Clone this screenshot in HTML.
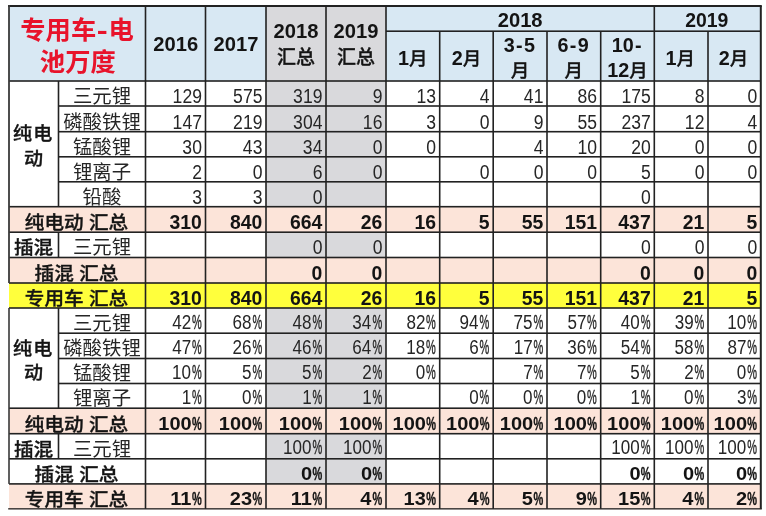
<!DOCTYPE html>
<html><head><meta charset="utf-8"><title>专用车-电池万度</title>
<style>
html,body{margin:0;padding:0;background:#fff;}
body{width:766px;height:516px;overflow:hidden;}
svg{display:block;}
</style></head>
<body>
<svg width="766" height="516" viewBox="0 0 766 516">
<rect x="0" y="0" width="766" height="516" fill="#fff"/>
<rect x="9" y="6.0" width="751.80" height="75.00" fill="#d8e8f3"/>
<rect x="266" y="6.0" width="120.00" height="75.00" fill="#d9d9dc"/>
<rect x="266" y="81" width="120.00" height="25.00" fill="#d9d9dc"/>
<rect x="266" y="106" width="120.00" height="25.70" fill="#d9d9dc"/>
<rect x="266" y="131.7" width="120.00" height="25.10" fill="#d9d9dc"/>
<rect x="266" y="156.8" width="120.00" height="25.00" fill="#d9d9dc"/>
<rect x="266" y="181.8" width="120.00" height="24.90" fill="#d9d9dc"/>
<rect x="266" y="232.2" width="120.00" height="25.30" fill="#d9d9dc"/>
<rect x="266" y="308" width="120.00" height="25.20" fill="#d9d9dc"/>
<rect x="266" y="333.2" width="120.00" height="25.30" fill="#d9d9dc"/>
<rect x="266" y="358.5" width="120.00" height="25.00" fill="#d9d9dc"/>
<rect x="266" y="383.5" width="120.00" height="24.70" fill="#d9d9dc"/>
<rect x="266" y="433.7" width="120.00" height="25.10" fill="#d9d9dc"/>
<rect x="266" y="458.8" width="120.00" height="25.10" fill="#d9d9dc"/>
<rect x="9" y="206.7" width="751.80" height="25.50" fill="#fce4d9"/>
<rect x="9" y="257.5" width="751.80" height="25.50" fill="#fce4d9"/>
<rect x="9" y="408.2" width="751.80" height="25.50" fill="#fce4d9"/>
<rect x="9" y="483.9" width="751.80" height="24.90" fill="#fce4d9"/>
<rect x="9" y="283" width="751.80" height="25.00" fill="#ffff3c"/>
<rect x="8" y="5.00" width="753.80" height="2.0" fill="#222"/>
<rect x="386" y="30.40" width="374.80" height="1.6" fill="#222"/>
<rect x="9" y="80.20" width="751.80" height="1.6" fill="#222"/>
<rect x="58.5" y="105.20" width="702.30" height="1.6" fill="#222"/>
<rect x="58.5" y="130.90" width="702.30" height="1.6" fill="#222"/>
<rect x="58.5" y="156.00" width="702.30" height="1.6" fill="#222"/>
<rect x="58.5" y="181.00" width="702.30" height="1.6" fill="#222"/>
<rect x="9" y="205.90" width="751.80" height="1.6" fill="#222"/>
<rect x="9" y="231.40" width="751.80" height="1.6" fill="#222"/>
<rect x="9" y="256.70" width="751.80" height="1.6" fill="#222"/>
<rect x="9" y="282.20" width="751.80" height="1.6" fill="#222"/>
<rect x="9" y="307.20" width="751.80" height="1.6" fill="#222"/>
<rect x="58.5" y="332.40" width="702.30" height="1.6" fill="#222"/>
<rect x="58.5" y="357.70" width="702.30" height="1.6" fill="#222"/>
<rect x="58.5" y="382.70" width="702.30" height="1.6" fill="#222"/>
<rect x="9" y="407.40" width="751.80" height="1.6" fill="#222"/>
<rect x="9" y="432.90" width="751.80" height="1.6" fill="#222"/>
<rect x="9" y="458.00" width="751.80" height="1.6" fill="#222"/>
<rect x="9" y="483.10" width="751.80" height="1.6" fill="#222"/>
<rect x="8.2" y="508.00" width="753.60" height="1.6" fill="#4a4543"/>
<rect x="8.10" y="5.0" width="1.8" height="278.00" fill="#3a3a3a"/>
<rect x="8.20" y="308" width="1.6" height="175.90" fill="#3a3a3a"/>
<rect x="759.80" y="6.0" width="2.0" height="502.80" fill="#222"/>
<rect x="144.70" y="6.0" width="1.6" height="502.80" fill="#222"/>
<rect x="204.70" y="6.0" width="1.6" height="502.80" fill="#222"/>
<rect x="265.20" y="6.0" width="1.6" height="502.80" fill="#222"/>
<rect x="325.20" y="6.0" width="1.6" height="502.80" fill="#222"/>
<rect x="385.20" y="6.0" width="1.6" height="502.80" fill="#222"/>
<rect x="438.90" y="31.2" width="1.6" height="477.60" fill="#222"/>
<rect x="492.40" y="31.2" width="1.6" height="477.60" fill="#222"/>
<rect x="546.20" y="31.2" width="1.6" height="477.60" fill="#222"/>
<rect x="599.90" y="31.2" width="1.6" height="477.60" fill="#222"/>
<rect x="653.50" y="6.0" width="1.6" height="502.80" fill="#222"/>
<rect x="707.20" y="31.2" width="1.6" height="477.60" fill="#222"/>
<rect x="57.70" y="81" width="1.6" height="125.70" fill="#222"/>
<rect x="57.70" y="232.2" width="1.6" height="25.30" fill="#222"/>
<rect x="57.70" y="308" width="1.6" height="100.20" fill="#222"/>
<rect x="57.70" y="433.7" width="1.6" height="25.10" fill="#222"/>
<text transform="translate(20.30,38.90) scale(1.0,1)" text-anchor="start" font-size="25.3" font-weight="bold" fill="#e8132b" font-family='"Liberation Sans", "Noto Sans CJK SC", sans-serif'>专用车</text>
<text transform="translate(102.30,38.90) scale(1.3,1)" text-anchor="middle" font-size="25.3" font-weight="bold" fill="#e8132b" font-family='"Liberation Sans", "Noto Sans CJK SC", sans-serif'>-</text>
<text transform="translate(108.50,38.90) scale(1.0,1)" text-anchor="start" font-size="25.3" font-weight="bold" fill="#e8132b" font-family='"Liberation Sans", "Noto Sans CJK SC", sans-serif'>电</text>
<text transform="translate(77.80,70.60) scale(1.0,1)" text-anchor="middle" font-size="25.3" font-weight="bold" fill="#e8132b" font-family='"Liberation Sans", "Noto Sans CJK SC", sans-serif'>池万度</text>
<text transform="translate(175.70,51.20) scale(1.02,1)" text-anchor="middle" font-size="19.8" font-weight="bold" fill="#141414" font-family='"Liberation Sans", "Noto Sans CJK SC", sans-serif'>2016</text>
<text transform="translate(235.95,51.20) scale(1.02,1)" text-anchor="middle" font-size="19.8" font-weight="bold" fill="#141414" font-family='"Liberation Sans", "Noto Sans CJK SC", sans-serif'>2017</text>
<text transform="translate(296.00,38.40) scale(1.02,1)" text-anchor="middle" font-size="19.8" font-weight="bold" fill="#141414" font-family='"Liberation Sans", "Noto Sans CJK SC", sans-serif'>2018</text>
<text transform="translate(296.00,63.50) scale(1.0,1)" text-anchor="middle" font-size="19" font-weight="500" fill="#141414" font-family='"Liberation Sans", "Noto Sans CJK SC", sans-serif' stroke="#141414" stroke-width="0.35">汇总</text>
<text transform="translate(356.00,38.40) scale(1.02,1)" text-anchor="middle" font-size="19.8" font-weight="bold" fill="#141414" font-family='"Liberation Sans", "Noto Sans CJK SC", sans-serif'>2019</text>
<text transform="translate(356.00,63.50) scale(1.0,1)" text-anchor="middle" font-size="19" font-weight="500" fill="#141414" font-family='"Liberation Sans", "Noto Sans CJK SC", sans-serif' stroke="#141414" stroke-width="0.35">汇总</text>
<text transform="translate(520.15,26.60) scale(1.02,1)" text-anchor="middle" font-size="19.8" font-weight="bold" fill="#141414" font-family='"Liberation Sans", "Noto Sans CJK SC", sans-serif'>2018</text>
<text transform="translate(706.75,26.60) scale(0.98,1)" text-anchor="middle" font-size="19.8" font-weight="bold" fill="#141414" font-family='"Liberation Sans", "Noto Sans CJK SC", sans-serif'>2019</text>
<text transform="translate(412.85,64.60) scale(1.0,1)" text-anchor="middle" font-size="18.5" font-weight="500" fill="#141414" font-family='"Liberation Sans", "Noto Sans CJK SC", sans-serif' stroke="#141414" stroke-width="0.35"><tspan font-size="19.8" font-weight="bold" stroke="none">1</tspan>月</text>
<text transform="translate(466.45,64.60) scale(1.0,1)" text-anchor="middle" font-size="18.5" font-weight="500" fill="#141414" font-family='"Liberation Sans", "Noto Sans CJK SC", sans-serif' stroke="#141414" stroke-width="0.35"><tspan font-size="19.8" font-weight="bold" stroke="none">2</tspan>月</text>
<text transform="translate(680.15,64.60) scale(1.0,1)" text-anchor="middle" font-size="18.5" font-weight="500" fill="#141414" font-family='"Liberation Sans", "Noto Sans CJK SC", sans-serif' stroke="#141414" stroke-width="0.35"><tspan font-size="19.8" font-weight="bold" stroke="none">1</tspan>月</text>
<text transform="translate(733.40,64.60) scale(1.0,1)" text-anchor="middle" font-size="18.5" font-weight="500" fill="#141414" font-family='"Liberation Sans", "Noto Sans CJK SC", sans-serif' stroke="#141414" stroke-width="0.35"><tspan font-size="19.8" font-weight="bold" stroke="none">2</tspan>月</text>
<text transform="translate(520.10,51.60) scale(1.0,1)" text-anchor="middle" font-size="19.8" font-weight="bold" fill="#141414" font-family='"Liberation Sans", "Noto Sans CJK SC", sans-serif' letter-spacing="1.4">3-5</text>
<text transform="translate(520.10,76.80) scale(1.0,1)" text-anchor="middle" font-size="18.5" font-weight="500" fill="#141414" font-family='"Liberation Sans", "Noto Sans CJK SC", sans-serif' stroke="#141414" stroke-width="0.35">月</text>
<text transform="translate(573.85,51.60) scale(1.0,1)" text-anchor="middle" font-size="19.8" font-weight="bold" fill="#141414" font-family='"Liberation Sans", "Noto Sans CJK SC", sans-serif' letter-spacing="1.4">6-9</text>
<text transform="translate(573.85,76.80) scale(1.0,1)" text-anchor="middle" font-size="18.5" font-weight="500" fill="#141414" font-family='"Liberation Sans", "Noto Sans CJK SC", sans-serif' stroke="#141414" stroke-width="0.35">月</text>
<text transform="translate(633.80,51.60) scale(1.0,1)" text-anchor="end" font-size="19.8" font-weight="bold" fill="#141414" font-family='"Liberation Sans", "Noto Sans CJK SC", sans-serif'>10</text>
<text transform="translate(634.90,51.60) scale(1.0,1)" text-anchor="start" font-size="19.8" font-weight="bold" fill="#141414" font-family='"Liberation Sans", "Noto Sans CJK SC", sans-serif'>-</text>
<text transform="translate(627.50,76.80) scale(1.0,1)" text-anchor="middle" font-size="18.5" font-weight="500" fill="#141414" font-family='"Liberation Sans", "Noto Sans CJK SC", sans-serif' stroke="#141414" stroke-width="0.35"><tspan font-size="19.8" font-weight="bold" stroke="none">12</tspan>月</text>
<text transform="translate(102.00,102.80) scale(1.02,1)" text-anchor="middle" font-size="19" font-weight="normal" fill="#262626" font-family='"Liberation Sans", "Noto Sans CJK SC", sans-serif'>三元锂</text>
<text transform="translate(201.90,102.80) scale(0.9,1)" text-anchor="end" font-size="19.5" font-weight="normal" fill="#262626" font-family='"Liberation Sans", "Noto Sans CJK SC", sans-serif'>129</text>
<text transform="translate(262.40,102.80) scale(0.9,1)" text-anchor="end" font-size="19.5" font-weight="normal" fill="#262626" font-family='"Liberation Sans", "Noto Sans CJK SC", sans-serif'>575</text>
<text transform="translate(322.40,102.80) scale(0.9,1)" text-anchor="end" font-size="19.5" font-weight="normal" fill="#262626" font-family='"Liberation Sans", "Noto Sans CJK SC", sans-serif'>319</text>
<text transform="translate(382.40,102.80) scale(0.9,1)" text-anchor="end" font-size="19.5" font-weight="normal" fill="#262626" font-family='"Liberation Sans", "Noto Sans CJK SC", sans-serif'>9</text>
<text transform="translate(436.10,102.80) scale(0.9,1)" text-anchor="end" font-size="19.5" font-weight="normal" fill="#262626" font-family='"Liberation Sans", "Noto Sans CJK SC", sans-serif'>13</text>
<text transform="translate(489.60,102.80) scale(0.9,1)" text-anchor="end" font-size="19.5" font-weight="normal" fill="#262626" font-family='"Liberation Sans", "Noto Sans CJK SC", sans-serif'>4</text>
<text transform="translate(543.40,102.80) scale(0.9,1)" text-anchor="end" font-size="19.5" font-weight="normal" fill="#262626" font-family='"Liberation Sans", "Noto Sans CJK SC", sans-serif'>41</text>
<text transform="translate(597.10,102.80) scale(0.9,1)" text-anchor="end" font-size="19.5" font-weight="normal" fill="#262626" font-family='"Liberation Sans", "Noto Sans CJK SC", sans-serif'>86</text>
<text transform="translate(650.70,102.80) scale(0.9,1)" text-anchor="end" font-size="19.5" font-weight="normal" fill="#262626" font-family='"Liberation Sans", "Noto Sans CJK SC", sans-serif'>175</text>
<text transform="translate(704.40,102.80) scale(0.9,1)" text-anchor="end" font-size="19.5" font-weight="normal" fill="#262626" font-family='"Liberation Sans", "Noto Sans CJK SC", sans-serif'>8</text>
<text transform="translate(757.20,102.80) scale(0.9,1)" text-anchor="end" font-size="19.5" font-weight="normal" fill="#262626" font-family='"Liberation Sans", "Noto Sans CJK SC", sans-serif'>0</text>
<text transform="translate(102.00,128.50) scale(1.02,1)" text-anchor="middle" font-size="19" font-weight="normal" fill="#262626" font-family='"Liberation Sans", "Noto Sans CJK SC", sans-serif'>磷酸铁锂</text>
<text transform="translate(201.90,128.50) scale(0.9,1)" text-anchor="end" font-size="19.5" font-weight="normal" fill="#262626" font-family='"Liberation Sans", "Noto Sans CJK SC", sans-serif'>147</text>
<text transform="translate(262.40,128.50) scale(0.9,1)" text-anchor="end" font-size="19.5" font-weight="normal" fill="#262626" font-family='"Liberation Sans", "Noto Sans CJK SC", sans-serif'>219</text>
<text transform="translate(322.40,128.50) scale(0.9,1)" text-anchor="end" font-size="19.5" font-weight="normal" fill="#262626" font-family='"Liberation Sans", "Noto Sans CJK SC", sans-serif'>304</text>
<text transform="translate(382.40,128.50) scale(0.9,1)" text-anchor="end" font-size="19.5" font-weight="normal" fill="#262626" font-family='"Liberation Sans", "Noto Sans CJK SC", sans-serif'>16</text>
<text transform="translate(436.10,128.50) scale(0.9,1)" text-anchor="end" font-size="19.5" font-weight="normal" fill="#262626" font-family='"Liberation Sans", "Noto Sans CJK SC", sans-serif'>3</text>
<text transform="translate(489.60,128.50) scale(0.9,1)" text-anchor="end" font-size="19.5" font-weight="normal" fill="#262626" font-family='"Liberation Sans", "Noto Sans CJK SC", sans-serif'>0</text>
<text transform="translate(543.40,128.50) scale(0.9,1)" text-anchor="end" font-size="19.5" font-weight="normal" fill="#262626" font-family='"Liberation Sans", "Noto Sans CJK SC", sans-serif'>9</text>
<text transform="translate(597.10,128.50) scale(0.9,1)" text-anchor="end" font-size="19.5" font-weight="normal" fill="#262626" font-family='"Liberation Sans", "Noto Sans CJK SC", sans-serif'>55</text>
<text transform="translate(650.70,128.50) scale(0.9,1)" text-anchor="end" font-size="19.5" font-weight="normal" fill="#262626" font-family='"Liberation Sans", "Noto Sans CJK SC", sans-serif'>237</text>
<text transform="translate(704.40,128.50) scale(0.9,1)" text-anchor="end" font-size="19.5" font-weight="normal" fill="#262626" font-family='"Liberation Sans", "Noto Sans CJK SC", sans-serif'>12</text>
<text transform="translate(757.20,128.50) scale(0.9,1)" text-anchor="end" font-size="19.5" font-weight="normal" fill="#262626" font-family='"Liberation Sans", "Noto Sans CJK SC", sans-serif'>4</text>
<text transform="translate(102.00,153.60) scale(1.02,1)" text-anchor="middle" font-size="19" font-weight="normal" fill="#262626" font-family='"Liberation Sans", "Noto Sans CJK SC", sans-serif'>锰酸锂</text>
<text transform="translate(201.90,153.60) scale(0.9,1)" text-anchor="end" font-size="19.5" font-weight="normal" fill="#262626" font-family='"Liberation Sans", "Noto Sans CJK SC", sans-serif'>30</text>
<text transform="translate(262.40,153.60) scale(0.9,1)" text-anchor="end" font-size="19.5" font-weight="normal" fill="#262626" font-family='"Liberation Sans", "Noto Sans CJK SC", sans-serif'>43</text>
<text transform="translate(322.40,153.60) scale(0.9,1)" text-anchor="end" font-size="19.5" font-weight="normal" fill="#262626" font-family='"Liberation Sans", "Noto Sans CJK SC", sans-serif'>34</text>
<text transform="translate(382.40,153.60) scale(0.9,1)" text-anchor="end" font-size="19.5" font-weight="normal" fill="#262626" font-family='"Liberation Sans", "Noto Sans CJK SC", sans-serif'>0</text>
<text transform="translate(436.10,153.60) scale(0.9,1)" text-anchor="end" font-size="19.5" font-weight="normal" fill="#262626" font-family='"Liberation Sans", "Noto Sans CJK SC", sans-serif'>0</text>
<text transform="translate(543.40,153.60) scale(0.9,1)" text-anchor="end" font-size="19.5" font-weight="normal" fill="#262626" font-family='"Liberation Sans", "Noto Sans CJK SC", sans-serif'>4</text>
<text transform="translate(597.10,153.60) scale(0.9,1)" text-anchor="end" font-size="19.5" font-weight="normal" fill="#262626" font-family='"Liberation Sans", "Noto Sans CJK SC", sans-serif'>10</text>
<text transform="translate(650.70,153.60) scale(0.9,1)" text-anchor="end" font-size="19.5" font-weight="normal" fill="#262626" font-family='"Liberation Sans", "Noto Sans CJK SC", sans-serif'>20</text>
<text transform="translate(704.40,153.60) scale(0.9,1)" text-anchor="end" font-size="19.5" font-weight="normal" fill="#262626" font-family='"Liberation Sans", "Noto Sans CJK SC", sans-serif'>0</text>
<text transform="translate(757.20,153.60) scale(0.9,1)" text-anchor="end" font-size="19.5" font-weight="normal" fill="#262626" font-family='"Liberation Sans", "Noto Sans CJK SC", sans-serif'>0</text>
<text transform="translate(102.00,178.60) scale(1.02,1)" text-anchor="middle" font-size="19" font-weight="normal" fill="#262626" font-family='"Liberation Sans", "Noto Sans CJK SC", sans-serif'>锂离子</text>
<text transform="translate(201.90,178.60) scale(0.9,1)" text-anchor="end" font-size="19.5" font-weight="normal" fill="#262626" font-family='"Liberation Sans", "Noto Sans CJK SC", sans-serif'>2</text>
<text transform="translate(262.40,178.60) scale(0.9,1)" text-anchor="end" font-size="19.5" font-weight="normal" fill="#262626" font-family='"Liberation Sans", "Noto Sans CJK SC", sans-serif'>0</text>
<text transform="translate(322.40,178.60) scale(0.9,1)" text-anchor="end" font-size="19.5" font-weight="normal" fill="#262626" font-family='"Liberation Sans", "Noto Sans CJK SC", sans-serif'>6</text>
<text transform="translate(382.40,178.60) scale(0.9,1)" text-anchor="end" font-size="19.5" font-weight="normal" fill="#262626" font-family='"Liberation Sans", "Noto Sans CJK SC", sans-serif'>0</text>
<text transform="translate(489.60,178.60) scale(0.9,1)" text-anchor="end" font-size="19.5" font-weight="normal" fill="#262626" font-family='"Liberation Sans", "Noto Sans CJK SC", sans-serif'>0</text>
<text transform="translate(543.40,178.60) scale(0.9,1)" text-anchor="end" font-size="19.5" font-weight="normal" fill="#262626" font-family='"Liberation Sans", "Noto Sans CJK SC", sans-serif'>0</text>
<text transform="translate(597.10,178.60) scale(0.9,1)" text-anchor="end" font-size="19.5" font-weight="normal" fill="#262626" font-family='"Liberation Sans", "Noto Sans CJK SC", sans-serif'>0</text>
<text transform="translate(650.70,178.60) scale(0.9,1)" text-anchor="end" font-size="19.5" font-weight="normal" fill="#262626" font-family='"Liberation Sans", "Noto Sans CJK SC", sans-serif'>5</text>
<text transform="translate(704.40,178.60) scale(0.9,1)" text-anchor="end" font-size="19.5" font-weight="normal" fill="#262626" font-family='"Liberation Sans", "Noto Sans CJK SC", sans-serif'>0</text>
<text transform="translate(757.20,178.60) scale(0.9,1)" text-anchor="end" font-size="19.5" font-weight="normal" fill="#262626" font-family='"Liberation Sans", "Noto Sans CJK SC", sans-serif'>0</text>
<text transform="translate(102.00,203.50) scale(1.02,1)" text-anchor="middle" font-size="19" font-weight="normal" fill="#262626" font-family='"Liberation Sans", "Noto Sans CJK SC", sans-serif'>铅酸</text>
<text transform="translate(201.90,203.50) scale(0.9,1)" text-anchor="end" font-size="19.5" font-weight="normal" fill="#262626" font-family='"Liberation Sans", "Noto Sans CJK SC", sans-serif'>3</text>
<text transform="translate(262.40,203.50) scale(0.9,1)" text-anchor="end" font-size="19.5" font-weight="normal" fill="#262626" font-family='"Liberation Sans", "Noto Sans CJK SC", sans-serif'>3</text>
<text transform="translate(322.40,203.50) scale(0.9,1)" text-anchor="end" font-size="19.5" font-weight="normal" fill="#262626" font-family='"Liberation Sans", "Noto Sans CJK SC", sans-serif'>0</text>
<text transform="translate(650.70,203.50) scale(0.9,1)" text-anchor="end" font-size="19.5" font-weight="normal" fill="#262626" font-family='"Liberation Sans", "Noto Sans CJK SC", sans-serif'>0</text>
<text transform="translate(76.50,229.00) scale(1.06,1)" text-anchor="middle" font-size="18.5" font-weight="500" fill="#141414" font-family='"Liberation Sans", "Noto Sans CJK SC", sans-serif' stroke="#141414" stroke-width="0.35">纯电动 汇总</text>
<text transform="translate(201.90,229.00) scale(1.0,1)" text-anchor="end" font-size="19.4" font-weight="bold" fill="#141414" font-family='"Liberation Sans", "Noto Sans CJK SC", sans-serif'>310</text>
<text transform="translate(262.40,229.00) scale(1.0,1)" text-anchor="end" font-size="19.4" font-weight="bold" fill="#141414" font-family='"Liberation Sans", "Noto Sans CJK SC", sans-serif'>840</text>
<text transform="translate(322.40,229.00) scale(1.0,1)" text-anchor="end" font-size="19.4" font-weight="bold" fill="#141414" font-family='"Liberation Sans", "Noto Sans CJK SC", sans-serif'>664</text>
<text transform="translate(382.40,229.00) scale(1.0,1)" text-anchor="end" font-size="19.4" font-weight="bold" fill="#141414" font-family='"Liberation Sans", "Noto Sans CJK SC", sans-serif'>26</text>
<text transform="translate(436.10,229.00) scale(1.0,1)" text-anchor="end" font-size="19.4" font-weight="bold" fill="#141414" font-family='"Liberation Sans", "Noto Sans CJK SC", sans-serif'>16</text>
<text transform="translate(489.60,229.00) scale(1.0,1)" text-anchor="end" font-size="19.4" font-weight="bold" fill="#141414" font-family='"Liberation Sans", "Noto Sans CJK SC", sans-serif'>5</text>
<text transform="translate(543.40,229.00) scale(1.0,1)" text-anchor="end" font-size="19.4" font-weight="bold" fill="#141414" font-family='"Liberation Sans", "Noto Sans CJK SC", sans-serif'>55</text>
<text transform="translate(597.10,229.00) scale(1.0,1)" text-anchor="end" font-size="19.4" font-weight="bold" fill="#141414" font-family='"Liberation Sans", "Noto Sans CJK SC", sans-serif'>151</text>
<text transform="translate(650.70,229.00) scale(1.0,1)" text-anchor="end" font-size="19.4" font-weight="bold" fill="#141414" font-family='"Liberation Sans", "Noto Sans CJK SC", sans-serif'>437</text>
<text transform="translate(704.40,229.00) scale(1.0,1)" text-anchor="end" font-size="19.4" font-weight="bold" fill="#141414" font-family='"Liberation Sans", "Noto Sans CJK SC", sans-serif'>21</text>
<text transform="translate(757.20,229.00) scale(1.0,1)" text-anchor="end" font-size="19.4" font-weight="bold" fill="#141414" font-family='"Liberation Sans", "Noto Sans CJK SC", sans-serif'>5</text>
<text transform="translate(102.00,254.30) scale(1.02,1)" text-anchor="middle" font-size="19" font-weight="normal" fill="#262626" font-family='"Liberation Sans", "Noto Sans CJK SC", sans-serif'>三元锂</text>
<text transform="translate(322.40,254.30) scale(0.9,1)" text-anchor="end" font-size="19.5" font-weight="normal" fill="#262626" font-family='"Liberation Sans", "Noto Sans CJK SC", sans-serif'>0</text>
<text transform="translate(382.40,254.30) scale(0.9,1)" text-anchor="end" font-size="19.5" font-weight="normal" fill="#262626" font-family='"Liberation Sans", "Noto Sans CJK SC", sans-serif'>0</text>
<text transform="translate(650.70,254.30) scale(0.9,1)" text-anchor="end" font-size="19.5" font-weight="normal" fill="#262626" font-family='"Liberation Sans", "Noto Sans CJK SC", sans-serif'>0</text>
<text transform="translate(704.40,254.30) scale(0.9,1)" text-anchor="end" font-size="19.5" font-weight="normal" fill="#262626" font-family='"Liberation Sans", "Noto Sans CJK SC", sans-serif'>0</text>
<text transform="translate(757.20,254.30) scale(0.9,1)" text-anchor="end" font-size="19.5" font-weight="normal" fill="#262626" font-family='"Liberation Sans", "Noto Sans CJK SC", sans-serif'>0</text>
<text transform="translate(76.50,279.80) scale(1.06,1)" text-anchor="middle" font-size="18.5" font-weight="500" fill="#141414" font-family='"Liberation Sans", "Noto Sans CJK SC", sans-serif' stroke="#141414" stroke-width="0.35">插混 汇总</text>
<text transform="translate(322.40,279.80) scale(1.0,1)" text-anchor="end" font-size="19.4" font-weight="bold" fill="#141414" font-family='"Liberation Sans", "Noto Sans CJK SC", sans-serif'>0</text>
<text transform="translate(382.40,279.80) scale(1.0,1)" text-anchor="end" font-size="19.4" font-weight="bold" fill="#141414" font-family='"Liberation Sans", "Noto Sans CJK SC", sans-serif'>0</text>
<text transform="translate(650.70,279.80) scale(1.0,1)" text-anchor="end" font-size="19.4" font-weight="bold" fill="#141414" font-family='"Liberation Sans", "Noto Sans CJK SC", sans-serif'>0</text>
<text transform="translate(704.40,279.80) scale(1.0,1)" text-anchor="end" font-size="19.4" font-weight="bold" fill="#141414" font-family='"Liberation Sans", "Noto Sans CJK SC", sans-serif'>0</text>
<text transform="translate(757.20,279.80) scale(1.0,1)" text-anchor="end" font-size="19.4" font-weight="bold" fill="#141414" font-family='"Liberation Sans", "Noto Sans CJK SC", sans-serif'>0</text>
<text transform="translate(76.50,304.80) scale(1.06,1)" text-anchor="middle" font-size="18.5" font-weight="500" fill="#141414" font-family='"Liberation Sans", "Noto Sans CJK SC", sans-serif' stroke="#141414" stroke-width="0.35">专用车 汇总</text>
<text transform="translate(201.90,304.80) scale(1.0,1)" text-anchor="end" font-size="19.4" font-weight="bold" fill="#141414" font-family='"Liberation Sans", "Noto Sans CJK SC", sans-serif'>310</text>
<text transform="translate(262.40,304.80) scale(1.0,1)" text-anchor="end" font-size="19.4" font-weight="bold" fill="#141414" font-family='"Liberation Sans", "Noto Sans CJK SC", sans-serif'>840</text>
<text transform="translate(322.40,304.80) scale(1.0,1)" text-anchor="end" font-size="19.4" font-weight="bold" fill="#141414" font-family='"Liberation Sans", "Noto Sans CJK SC", sans-serif'>664</text>
<text transform="translate(382.40,304.80) scale(1.0,1)" text-anchor="end" font-size="19.4" font-weight="bold" fill="#141414" font-family='"Liberation Sans", "Noto Sans CJK SC", sans-serif'>26</text>
<text transform="translate(436.10,304.80) scale(1.0,1)" text-anchor="end" font-size="19.4" font-weight="bold" fill="#141414" font-family='"Liberation Sans", "Noto Sans CJK SC", sans-serif'>16</text>
<text transform="translate(489.60,304.80) scale(1.0,1)" text-anchor="end" font-size="19.4" font-weight="bold" fill="#141414" font-family='"Liberation Sans", "Noto Sans CJK SC", sans-serif'>5</text>
<text transform="translate(543.40,304.80) scale(1.0,1)" text-anchor="end" font-size="19.4" font-weight="bold" fill="#141414" font-family='"Liberation Sans", "Noto Sans CJK SC", sans-serif'>55</text>
<text transform="translate(597.10,304.80) scale(1.0,1)" text-anchor="end" font-size="19.4" font-weight="bold" fill="#141414" font-family='"Liberation Sans", "Noto Sans CJK SC", sans-serif'>151</text>
<text transform="translate(650.70,304.80) scale(1.0,1)" text-anchor="end" font-size="19.4" font-weight="bold" fill="#141414" font-family='"Liberation Sans", "Noto Sans CJK SC", sans-serif'>437</text>
<text transform="translate(704.40,304.80) scale(1.0,1)" text-anchor="end" font-size="19.4" font-weight="bold" fill="#141414" font-family='"Liberation Sans", "Noto Sans CJK SC", sans-serif'>21</text>
<text transform="translate(757.20,304.80) scale(1.0,1)" text-anchor="end" font-size="19.4" font-weight="bold" fill="#141414" font-family='"Liberation Sans", "Noto Sans CJK SC", sans-serif'>5</text>
<text transform="translate(102.00,330.00) scale(1.02,1)" text-anchor="middle" font-size="19" font-weight="normal" fill="#262626" font-family='"Liberation Sans", "Noto Sans CJK SC", sans-serif'>三元锂</text>
<text transform="translate(201.68,328.80) scale(0.56,1)" text-anchor="end" font-size="19.6" font-weight="normal" fill="#262626" font-family='"Liberation Sans", "Noto Sans CJK SC", sans-serif' stroke="#262626" stroke-width="0.4">%</text>
<text transform="translate(191.17,328.80) scale(0.87,1)" text-anchor="end" font-size="19.6" font-weight="normal" fill="#262626" font-family='"Liberation Sans", "Noto Sans CJK SC", sans-serif'>42</text>
<text transform="translate(262.18,328.80) scale(0.56,1)" text-anchor="end" font-size="19.6" font-weight="normal" fill="#262626" font-family='"Liberation Sans", "Noto Sans CJK SC", sans-serif' stroke="#262626" stroke-width="0.4">%</text>
<text transform="translate(251.55,328.80) scale(0.87,1)" text-anchor="end" font-size="19.6" font-weight="normal" fill="#262626" font-family='"Liberation Sans", "Noto Sans CJK SC", sans-serif'>68</text>
<text transform="translate(322.18,328.80) scale(0.56,1)" text-anchor="end" font-size="19.6" font-weight="normal" fill="#262626" font-family='"Liberation Sans", "Noto Sans CJK SC", sans-serif' stroke="#262626" stroke-width="0.4">%</text>
<text transform="translate(311.55,328.80) scale(0.87,1)" text-anchor="end" font-size="19.6" font-weight="normal" fill="#262626" font-family='"Liberation Sans", "Noto Sans CJK SC", sans-serif'>48</text>
<text transform="translate(382.18,328.80) scale(0.56,1)" text-anchor="end" font-size="19.6" font-weight="normal" fill="#262626" font-family='"Liberation Sans", "Noto Sans CJK SC", sans-serif' stroke="#262626" stroke-width="0.4">%</text>
<text transform="translate(371.32,328.80) scale(0.87,1)" text-anchor="end" font-size="19.6" font-weight="normal" fill="#262626" font-family='"Liberation Sans", "Noto Sans CJK SC", sans-serif'>34</text>
<text transform="translate(435.88,328.80) scale(0.56,1)" text-anchor="end" font-size="19.6" font-weight="normal" fill="#262626" font-family='"Liberation Sans", "Noto Sans CJK SC", sans-serif' stroke="#262626" stroke-width="0.4">%</text>
<text transform="translate(425.37,328.80) scale(0.87,1)" text-anchor="end" font-size="19.6" font-weight="normal" fill="#262626" font-family='"Liberation Sans", "Noto Sans CJK SC", sans-serif'>82</text>
<text transform="translate(489.38,328.80) scale(0.56,1)" text-anchor="end" font-size="19.6" font-weight="normal" fill="#262626" font-family='"Liberation Sans", "Noto Sans CJK SC", sans-serif' stroke="#262626" stroke-width="0.4">%</text>
<text transform="translate(478.52,328.80) scale(0.87,1)" text-anchor="end" font-size="19.6" font-weight="normal" fill="#262626" font-family='"Liberation Sans", "Noto Sans CJK SC", sans-serif'>94</text>
<text transform="translate(543.18,328.80) scale(0.56,1)" text-anchor="end" font-size="19.6" font-weight="normal" fill="#262626" font-family='"Liberation Sans", "Noto Sans CJK SC", sans-serif' stroke="#262626" stroke-width="0.4">%</text>
<text transform="translate(532.54,328.80) scale(0.87,1)" text-anchor="end" font-size="19.6" font-weight="normal" fill="#262626" font-family='"Liberation Sans", "Noto Sans CJK SC", sans-serif'>75</text>
<text transform="translate(596.88,328.80) scale(0.56,1)" text-anchor="end" font-size="19.6" font-weight="normal" fill="#262626" font-family='"Liberation Sans", "Noto Sans CJK SC", sans-serif' stroke="#262626" stroke-width="0.4">%</text>
<text transform="translate(586.37,328.80) scale(0.87,1)" text-anchor="end" font-size="19.6" font-weight="normal" fill="#262626" font-family='"Liberation Sans", "Noto Sans CJK SC", sans-serif'>57</text>
<text transform="translate(650.48,328.80) scale(0.56,1)" text-anchor="end" font-size="19.6" font-weight="normal" fill="#262626" font-family='"Liberation Sans", "Noto Sans CJK SC", sans-serif' stroke="#262626" stroke-width="0.4">%</text>
<text transform="translate(639.79,328.80) scale(0.87,1)" text-anchor="end" font-size="19.6" font-weight="normal" fill="#262626" font-family='"Liberation Sans", "Noto Sans CJK SC", sans-serif'>40</text>
<text transform="translate(704.18,328.80) scale(0.56,1)" text-anchor="end" font-size="19.6" font-weight="normal" fill="#262626" font-family='"Liberation Sans", "Noto Sans CJK SC", sans-serif' stroke="#262626" stroke-width="0.4">%</text>
<text transform="translate(693.62,328.80) scale(0.87,1)" text-anchor="end" font-size="19.6" font-weight="normal" fill="#262626" font-family='"Liberation Sans", "Noto Sans CJK SC", sans-serif'>39</text>
<text transform="translate(756.98,328.80) scale(0.56,1)" text-anchor="end" font-size="19.6" font-weight="normal" fill="#262626" font-family='"Liberation Sans", "Noto Sans CJK SC", sans-serif' stroke="#262626" stroke-width="0.4">%</text>
<text transform="translate(746.29,328.80) scale(0.87,1)" text-anchor="end" font-size="19.6" font-weight="normal" fill="#262626" font-family='"Liberation Sans", "Noto Sans CJK SC", sans-serif'>10</text>
<text transform="translate(102.00,355.30) scale(1.02,1)" text-anchor="middle" font-size="19" font-weight="normal" fill="#262626" font-family='"Liberation Sans", "Noto Sans CJK SC", sans-serif'>磷酸铁锂</text>
<text transform="translate(201.68,354.10) scale(0.56,1)" text-anchor="end" font-size="19.6" font-weight="normal" fill="#262626" font-family='"Liberation Sans", "Noto Sans CJK SC", sans-serif' stroke="#262626" stroke-width="0.4">%</text>
<text transform="translate(191.17,354.10) scale(0.87,1)" text-anchor="end" font-size="19.6" font-weight="normal" fill="#262626" font-family='"Liberation Sans", "Noto Sans CJK SC", sans-serif'>47</text>
<text transform="translate(262.18,354.10) scale(0.56,1)" text-anchor="end" font-size="19.6" font-weight="normal" fill="#262626" font-family='"Liberation Sans", "Noto Sans CJK SC", sans-serif' stroke="#262626" stroke-width="0.4">%</text>
<text transform="translate(251.57,354.10) scale(0.87,1)" text-anchor="end" font-size="19.6" font-weight="normal" fill="#262626" font-family='"Liberation Sans", "Noto Sans CJK SC", sans-serif'>26</text>
<text transform="translate(322.18,354.10) scale(0.56,1)" text-anchor="end" font-size="19.6" font-weight="normal" fill="#262626" font-family='"Liberation Sans", "Noto Sans CJK SC", sans-serif' stroke="#262626" stroke-width="0.4">%</text>
<text transform="translate(311.57,354.10) scale(0.87,1)" text-anchor="end" font-size="19.6" font-weight="normal" fill="#262626" font-family='"Liberation Sans", "Noto Sans CJK SC", sans-serif'>46</text>
<text transform="translate(382.18,354.10) scale(0.56,1)" text-anchor="end" font-size="19.6" font-weight="normal" fill="#262626" font-family='"Liberation Sans", "Noto Sans CJK SC", sans-serif' stroke="#262626" stroke-width="0.4">%</text>
<text transform="translate(371.32,354.10) scale(0.87,1)" text-anchor="end" font-size="19.6" font-weight="normal" fill="#262626" font-family='"Liberation Sans", "Noto Sans CJK SC", sans-serif'>64</text>
<text transform="translate(435.88,354.10) scale(0.56,1)" text-anchor="end" font-size="19.6" font-weight="normal" fill="#262626" font-family='"Liberation Sans", "Noto Sans CJK SC", sans-serif' stroke="#262626" stroke-width="0.4">%</text>
<text transform="translate(425.25,354.10) scale(0.87,1)" text-anchor="end" font-size="19.6" font-weight="normal" fill="#262626" font-family='"Liberation Sans", "Noto Sans CJK SC", sans-serif'>18</text>
<text transform="translate(489.38,354.10) scale(0.56,1)" text-anchor="end" font-size="19.6" font-weight="normal" fill="#262626" font-family='"Liberation Sans", "Noto Sans CJK SC", sans-serif' stroke="#262626" stroke-width="0.4">%</text>
<text transform="translate(478.77,354.10) scale(0.87,1)" text-anchor="end" font-size="19.6" font-weight="normal" fill="#262626" font-family='"Liberation Sans", "Noto Sans CJK SC", sans-serif'>6</text>
<text transform="translate(543.18,354.10) scale(0.56,1)" text-anchor="end" font-size="19.6" font-weight="normal" fill="#262626" font-family='"Liberation Sans", "Noto Sans CJK SC", sans-serif' stroke="#262626" stroke-width="0.4">%</text>
<text transform="translate(532.67,354.10) scale(0.87,1)" text-anchor="end" font-size="19.6" font-weight="normal" fill="#262626" font-family='"Liberation Sans", "Noto Sans CJK SC", sans-serif'>17</text>
<text transform="translate(596.88,354.10) scale(0.56,1)" text-anchor="end" font-size="19.6" font-weight="normal" fill="#262626" font-family='"Liberation Sans", "Noto Sans CJK SC", sans-serif' stroke="#262626" stroke-width="0.4">%</text>
<text transform="translate(586.27,354.10) scale(0.87,1)" text-anchor="end" font-size="19.6" font-weight="normal" fill="#262626" font-family='"Liberation Sans", "Noto Sans CJK SC", sans-serif'>36</text>
<text transform="translate(650.48,354.10) scale(0.56,1)" text-anchor="end" font-size="19.6" font-weight="normal" fill="#262626" font-family='"Liberation Sans", "Noto Sans CJK SC", sans-serif' stroke="#262626" stroke-width="0.4">%</text>
<text transform="translate(639.62,354.10) scale(0.87,1)" text-anchor="end" font-size="19.6" font-weight="normal" fill="#262626" font-family='"Liberation Sans", "Noto Sans CJK SC", sans-serif'>54</text>
<text transform="translate(704.18,354.10) scale(0.56,1)" text-anchor="end" font-size="19.6" font-weight="normal" fill="#262626" font-family='"Liberation Sans", "Noto Sans CJK SC", sans-serif' stroke="#262626" stroke-width="0.4">%</text>
<text transform="translate(693.55,354.10) scale(0.87,1)" text-anchor="end" font-size="19.6" font-weight="normal" fill="#262626" font-family='"Liberation Sans", "Noto Sans CJK SC", sans-serif'>58</text>
<text transform="translate(756.98,354.10) scale(0.56,1)" text-anchor="end" font-size="19.6" font-weight="normal" fill="#262626" font-family='"Liberation Sans", "Noto Sans CJK SC", sans-serif' stroke="#262626" stroke-width="0.4">%</text>
<text transform="translate(746.47,354.10) scale(0.87,1)" text-anchor="end" font-size="19.6" font-weight="normal" fill="#262626" font-family='"Liberation Sans", "Noto Sans CJK SC", sans-serif'>87</text>
<text transform="translate(102.00,380.30) scale(1.02,1)" text-anchor="middle" font-size="19" font-weight="normal" fill="#262626" font-family='"Liberation Sans", "Noto Sans CJK SC", sans-serif'>锰酸锂</text>
<text transform="translate(201.68,379.10) scale(0.56,1)" text-anchor="end" font-size="19.6" font-weight="normal" fill="#262626" font-family='"Liberation Sans", "Noto Sans CJK SC", sans-serif' stroke="#262626" stroke-width="0.4">%</text>
<text transform="translate(190.99,379.10) scale(0.87,1)" text-anchor="end" font-size="19.6" font-weight="normal" fill="#262626" font-family='"Liberation Sans", "Noto Sans CJK SC", sans-serif'>10</text>
<text transform="translate(262.18,379.10) scale(0.56,1)" text-anchor="end" font-size="19.6" font-weight="normal" fill="#262626" font-family='"Liberation Sans", "Noto Sans CJK SC", sans-serif' stroke="#262626" stroke-width="0.4">%</text>
<text transform="translate(251.54,379.10) scale(0.87,1)" text-anchor="end" font-size="19.6" font-weight="normal" fill="#262626" font-family='"Liberation Sans", "Noto Sans CJK SC", sans-serif'>5</text>
<text transform="translate(322.18,379.10) scale(0.56,1)" text-anchor="end" font-size="19.6" font-weight="normal" fill="#262626" font-family='"Liberation Sans", "Noto Sans CJK SC", sans-serif' stroke="#262626" stroke-width="0.4">%</text>
<text transform="translate(311.54,379.10) scale(0.87,1)" text-anchor="end" font-size="19.6" font-weight="normal" fill="#262626" font-family='"Liberation Sans", "Noto Sans CJK SC", sans-serif'>5</text>
<text transform="translate(382.18,379.10) scale(0.56,1)" text-anchor="end" font-size="19.6" font-weight="normal" fill="#262626" font-family='"Liberation Sans", "Noto Sans CJK SC", sans-serif' stroke="#262626" stroke-width="0.4">%</text>
<text transform="translate(371.67,379.10) scale(0.87,1)" text-anchor="end" font-size="19.6" font-weight="normal" fill="#262626" font-family='"Liberation Sans", "Noto Sans CJK SC", sans-serif'>2</text>
<text transform="translate(435.88,379.10) scale(0.56,1)" text-anchor="end" font-size="19.6" font-weight="normal" fill="#262626" font-family='"Liberation Sans", "Noto Sans CJK SC", sans-serif' stroke="#262626" stroke-width="0.4">%</text>
<text transform="translate(425.19,379.10) scale(0.87,1)" text-anchor="end" font-size="19.6" font-weight="normal" fill="#262626" font-family='"Liberation Sans", "Noto Sans CJK SC", sans-serif'>0</text>
<text transform="translate(543.18,379.10) scale(0.56,1)" text-anchor="end" font-size="19.6" font-weight="normal" fill="#262626" font-family='"Liberation Sans", "Noto Sans CJK SC", sans-serif' stroke="#262626" stroke-width="0.4">%</text>
<text transform="translate(532.67,379.10) scale(0.87,1)" text-anchor="end" font-size="19.6" font-weight="normal" fill="#262626" font-family='"Liberation Sans", "Noto Sans CJK SC", sans-serif'>7</text>
<text transform="translate(596.88,379.10) scale(0.56,1)" text-anchor="end" font-size="19.6" font-weight="normal" fill="#262626" font-family='"Liberation Sans", "Noto Sans CJK SC", sans-serif' stroke="#262626" stroke-width="0.4">%</text>
<text transform="translate(586.37,379.10) scale(0.87,1)" text-anchor="end" font-size="19.6" font-weight="normal" fill="#262626" font-family='"Liberation Sans", "Noto Sans CJK SC", sans-serif'>7</text>
<text transform="translate(650.48,379.10) scale(0.56,1)" text-anchor="end" font-size="19.6" font-weight="normal" fill="#262626" font-family='"Liberation Sans", "Noto Sans CJK SC", sans-serif' stroke="#262626" stroke-width="0.4">%</text>
<text transform="translate(639.84,379.10) scale(0.87,1)" text-anchor="end" font-size="19.6" font-weight="normal" fill="#262626" font-family='"Liberation Sans", "Noto Sans CJK SC", sans-serif'>5</text>
<text transform="translate(704.18,379.10) scale(0.56,1)" text-anchor="end" font-size="19.6" font-weight="normal" fill="#262626" font-family='"Liberation Sans", "Noto Sans CJK SC", sans-serif' stroke="#262626" stroke-width="0.4">%</text>
<text transform="translate(693.67,379.10) scale(0.87,1)" text-anchor="end" font-size="19.6" font-weight="normal" fill="#262626" font-family='"Liberation Sans", "Noto Sans CJK SC", sans-serif'>2</text>
<text transform="translate(756.98,379.10) scale(0.56,1)" text-anchor="end" font-size="19.6" font-weight="normal" fill="#262626" font-family='"Liberation Sans", "Noto Sans CJK SC", sans-serif' stroke="#262626" stroke-width="0.4">%</text>
<text transform="translate(746.29,379.10) scale(0.87,1)" text-anchor="end" font-size="19.6" font-weight="normal" fill="#262626" font-family='"Liberation Sans", "Noto Sans CJK SC", sans-serif'>0</text>
<text transform="translate(102.00,405.00) scale(1.02,1)" text-anchor="middle" font-size="19" font-weight="normal" fill="#262626" font-family='"Liberation Sans", "Noto Sans CJK SC", sans-serif'>锂离子</text>
<text transform="translate(201.68,403.80) scale(0.56,1)" text-anchor="end" font-size="19.6" font-weight="normal" fill="#262626" font-family='"Liberation Sans", "Noto Sans CJK SC", sans-serif' stroke="#262626" stroke-width="0.4">%</text>
<text transform="translate(191.16,403.80) scale(0.87,1)" text-anchor="end" font-size="19.6" font-weight="normal" fill="#262626" font-family='"Liberation Sans", "Noto Sans CJK SC", sans-serif'>1</text>
<text transform="translate(262.18,403.80) scale(0.56,1)" text-anchor="end" font-size="19.6" font-weight="normal" fill="#262626" font-family='"Liberation Sans", "Noto Sans CJK SC", sans-serif' stroke="#262626" stroke-width="0.4">%</text>
<text transform="translate(251.49,403.80) scale(0.87,1)" text-anchor="end" font-size="19.6" font-weight="normal" fill="#262626" font-family='"Liberation Sans", "Noto Sans CJK SC", sans-serif'>0</text>
<text transform="translate(322.18,403.80) scale(0.56,1)" text-anchor="end" font-size="19.6" font-weight="normal" fill="#262626" font-family='"Liberation Sans", "Noto Sans CJK SC", sans-serif' stroke="#262626" stroke-width="0.4">%</text>
<text transform="translate(311.66,403.80) scale(0.87,1)" text-anchor="end" font-size="19.6" font-weight="normal" fill="#262626" font-family='"Liberation Sans", "Noto Sans CJK SC", sans-serif'>1</text>
<text transform="translate(382.18,403.80) scale(0.56,1)" text-anchor="end" font-size="19.6" font-weight="normal" fill="#262626" font-family='"Liberation Sans", "Noto Sans CJK SC", sans-serif' stroke="#262626" stroke-width="0.4">%</text>
<text transform="translate(371.66,403.80) scale(0.87,1)" text-anchor="end" font-size="19.6" font-weight="normal" fill="#262626" font-family='"Liberation Sans", "Noto Sans CJK SC", sans-serif'>1</text>
<text transform="translate(489.38,403.80) scale(0.56,1)" text-anchor="end" font-size="19.6" font-weight="normal" fill="#262626" font-family='"Liberation Sans", "Noto Sans CJK SC", sans-serif' stroke="#262626" stroke-width="0.4">%</text>
<text transform="translate(478.69,403.80) scale(0.87,1)" text-anchor="end" font-size="19.6" font-weight="normal" fill="#262626" font-family='"Liberation Sans", "Noto Sans CJK SC", sans-serif'>0</text>
<text transform="translate(543.18,403.80) scale(0.56,1)" text-anchor="end" font-size="19.6" font-weight="normal" fill="#262626" font-family='"Liberation Sans", "Noto Sans CJK SC", sans-serif' stroke="#262626" stroke-width="0.4">%</text>
<text transform="translate(532.49,403.80) scale(0.87,1)" text-anchor="end" font-size="19.6" font-weight="normal" fill="#262626" font-family='"Liberation Sans", "Noto Sans CJK SC", sans-serif'>0</text>
<text transform="translate(596.88,403.80) scale(0.56,1)" text-anchor="end" font-size="19.6" font-weight="normal" fill="#262626" font-family='"Liberation Sans", "Noto Sans CJK SC", sans-serif' stroke="#262626" stroke-width="0.4">%</text>
<text transform="translate(586.19,403.80) scale(0.87,1)" text-anchor="end" font-size="19.6" font-weight="normal" fill="#262626" font-family='"Liberation Sans", "Noto Sans CJK SC", sans-serif'>0</text>
<text transform="translate(650.48,403.80) scale(0.56,1)" text-anchor="end" font-size="19.6" font-weight="normal" fill="#262626" font-family='"Liberation Sans", "Noto Sans CJK SC", sans-serif' stroke="#262626" stroke-width="0.4">%</text>
<text transform="translate(639.96,403.80) scale(0.87,1)" text-anchor="end" font-size="19.6" font-weight="normal" fill="#262626" font-family='"Liberation Sans", "Noto Sans CJK SC", sans-serif'>1</text>
<text transform="translate(704.18,403.80) scale(0.56,1)" text-anchor="end" font-size="19.6" font-weight="normal" fill="#262626" font-family='"Liberation Sans", "Noto Sans CJK SC", sans-serif' stroke="#262626" stroke-width="0.4">%</text>
<text transform="translate(693.49,403.80) scale(0.87,1)" text-anchor="end" font-size="19.6" font-weight="normal" fill="#262626" font-family='"Liberation Sans", "Noto Sans CJK SC", sans-serif'>0</text>
<text transform="translate(756.98,403.80) scale(0.56,1)" text-anchor="end" font-size="19.6" font-weight="normal" fill="#262626" font-family='"Liberation Sans", "Noto Sans CJK SC", sans-serif' stroke="#262626" stroke-width="0.4">%</text>
<text transform="translate(746.37,403.80) scale(0.87,1)" text-anchor="end" font-size="19.6" font-weight="normal" fill="#262626" font-family='"Liberation Sans", "Noto Sans CJK SC", sans-serif'>3</text>
<text transform="translate(76.50,430.50) scale(1.06,1)" text-anchor="middle" font-size="18.5" font-weight="500" fill="#141414" font-family='"Liberation Sans", "Noto Sans CJK SC", sans-serif' stroke="#141414" stroke-width="0.35">纯电动 汇总</text>
<text transform="translate(201.69,429.90) scale(0.58,1)" text-anchor="end" font-size="18.9" font-weight="bold" fill="#141414" font-family='"Liberation Sans", "Noto Sans CJK SC", sans-serif' stroke="#141414" stroke-width="0.4">%</text>
<text transform="translate(191.74,429.90) scale(1.06,1)" text-anchor="end" font-size="18.9" font-weight="bold" fill="#141414" font-family='"Liberation Sans", "Noto Sans CJK SC", sans-serif'>100</text>
<text transform="translate(262.19,429.90) scale(0.58,1)" text-anchor="end" font-size="18.9" font-weight="bold" fill="#141414" font-family='"Liberation Sans", "Noto Sans CJK SC", sans-serif' stroke="#141414" stroke-width="0.4">%</text>
<text transform="translate(252.24,429.90) scale(1.06,1)" text-anchor="end" font-size="18.9" font-weight="bold" fill="#141414" font-family='"Liberation Sans", "Noto Sans CJK SC", sans-serif'>100</text>
<text transform="translate(322.19,429.90) scale(0.58,1)" text-anchor="end" font-size="18.9" font-weight="bold" fill="#141414" font-family='"Liberation Sans", "Noto Sans CJK SC", sans-serif' stroke="#141414" stroke-width="0.4">%</text>
<text transform="translate(312.24,429.90) scale(1.06,1)" text-anchor="end" font-size="18.9" font-weight="bold" fill="#141414" font-family='"Liberation Sans", "Noto Sans CJK SC", sans-serif'>100</text>
<text transform="translate(382.19,429.90) scale(0.58,1)" text-anchor="end" font-size="18.9" font-weight="bold" fill="#141414" font-family='"Liberation Sans", "Noto Sans CJK SC", sans-serif' stroke="#141414" stroke-width="0.4">%</text>
<text transform="translate(372.24,429.90) scale(1.06,1)" text-anchor="end" font-size="18.9" font-weight="bold" fill="#141414" font-family='"Liberation Sans", "Noto Sans CJK SC", sans-serif'>100</text>
<text transform="translate(435.89,429.90) scale(0.58,1)" text-anchor="end" font-size="18.9" font-weight="bold" fill="#141414" font-family='"Liberation Sans", "Noto Sans CJK SC", sans-serif' stroke="#141414" stroke-width="0.4">%</text>
<text transform="translate(425.94,429.90) scale(1.06,1)" text-anchor="end" font-size="18.9" font-weight="bold" fill="#141414" font-family='"Liberation Sans", "Noto Sans CJK SC", sans-serif'>100</text>
<text transform="translate(489.39,429.90) scale(0.58,1)" text-anchor="end" font-size="18.9" font-weight="bold" fill="#141414" font-family='"Liberation Sans", "Noto Sans CJK SC", sans-serif' stroke="#141414" stroke-width="0.4">%</text>
<text transform="translate(479.44,429.90) scale(1.06,1)" text-anchor="end" font-size="18.9" font-weight="bold" fill="#141414" font-family='"Liberation Sans", "Noto Sans CJK SC", sans-serif'>100</text>
<text transform="translate(543.19,429.90) scale(0.58,1)" text-anchor="end" font-size="18.9" font-weight="bold" fill="#141414" font-family='"Liberation Sans", "Noto Sans CJK SC", sans-serif' stroke="#141414" stroke-width="0.4">%</text>
<text transform="translate(533.24,429.90) scale(1.06,1)" text-anchor="end" font-size="18.9" font-weight="bold" fill="#141414" font-family='"Liberation Sans", "Noto Sans CJK SC", sans-serif'>100</text>
<text transform="translate(596.89,429.90) scale(0.58,1)" text-anchor="end" font-size="18.9" font-weight="bold" fill="#141414" font-family='"Liberation Sans", "Noto Sans CJK SC", sans-serif' stroke="#141414" stroke-width="0.4">%</text>
<text transform="translate(586.94,429.90) scale(1.06,1)" text-anchor="end" font-size="18.9" font-weight="bold" fill="#141414" font-family='"Liberation Sans", "Noto Sans CJK SC", sans-serif'>100</text>
<text transform="translate(650.49,429.90) scale(0.58,1)" text-anchor="end" font-size="18.9" font-weight="bold" fill="#141414" font-family='"Liberation Sans", "Noto Sans CJK SC", sans-serif' stroke="#141414" stroke-width="0.4">%</text>
<text transform="translate(640.54,429.90) scale(1.06,1)" text-anchor="end" font-size="18.9" font-weight="bold" fill="#141414" font-family='"Liberation Sans", "Noto Sans CJK SC", sans-serif'>100</text>
<text transform="translate(704.19,429.90) scale(0.58,1)" text-anchor="end" font-size="18.9" font-weight="bold" fill="#141414" font-family='"Liberation Sans", "Noto Sans CJK SC", sans-serif' stroke="#141414" stroke-width="0.4">%</text>
<text transform="translate(694.24,429.90) scale(1.06,1)" text-anchor="end" font-size="18.9" font-weight="bold" fill="#141414" font-family='"Liberation Sans", "Noto Sans CJK SC", sans-serif'>100</text>
<text transform="translate(756.99,429.90) scale(0.58,1)" text-anchor="end" font-size="18.9" font-weight="bold" fill="#141414" font-family='"Liberation Sans", "Noto Sans CJK SC", sans-serif' stroke="#141414" stroke-width="0.4">%</text>
<text transform="translate(747.04,429.90) scale(1.06,1)" text-anchor="end" font-size="18.9" font-weight="bold" fill="#141414" font-family='"Liberation Sans", "Noto Sans CJK SC", sans-serif'>100</text>
<text transform="translate(102.00,455.60) scale(1.02,1)" text-anchor="middle" font-size="19" font-weight="normal" fill="#262626" font-family='"Liberation Sans", "Noto Sans CJK SC", sans-serif'>三元锂</text>
<text transform="translate(322.18,454.40) scale(0.56,1)" text-anchor="end" font-size="19.6" font-weight="normal" fill="#262626" font-family='"Liberation Sans", "Noto Sans CJK SC", sans-serif' stroke="#262626" stroke-width="0.4">%</text>
<text transform="translate(311.49,454.40) scale(0.87,1)" text-anchor="end" font-size="19.6" font-weight="normal" fill="#262626" font-family='"Liberation Sans", "Noto Sans CJK SC", sans-serif'>100</text>
<text transform="translate(382.18,454.40) scale(0.56,1)" text-anchor="end" font-size="19.6" font-weight="normal" fill="#262626" font-family='"Liberation Sans", "Noto Sans CJK SC", sans-serif' stroke="#262626" stroke-width="0.4">%</text>
<text transform="translate(371.49,454.40) scale(0.87,1)" text-anchor="end" font-size="19.6" font-weight="normal" fill="#262626" font-family='"Liberation Sans", "Noto Sans CJK SC", sans-serif'>100</text>
<text transform="translate(650.48,454.40) scale(0.56,1)" text-anchor="end" font-size="19.6" font-weight="normal" fill="#262626" font-family='"Liberation Sans", "Noto Sans CJK SC", sans-serif' stroke="#262626" stroke-width="0.4">%</text>
<text transform="translate(639.79,454.40) scale(0.87,1)" text-anchor="end" font-size="19.6" font-weight="normal" fill="#262626" font-family='"Liberation Sans", "Noto Sans CJK SC", sans-serif'>100</text>
<text transform="translate(704.18,454.40) scale(0.56,1)" text-anchor="end" font-size="19.6" font-weight="normal" fill="#262626" font-family='"Liberation Sans", "Noto Sans CJK SC", sans-serif' stroke="#262626" stroke-width="0.4">%</text>
<text transform="translate(693.49,454.40) scale(0.87,1)" text-anchor="end" font-size="19.6" font-weight="normal" fill="#262626" font-family='"Liberation Sans", "Noto Sans CJK SC", sans-serif'>100</text>
<text transform="translate(756.98,454.40) scale(0.56,1)" text-anchor="end" font-size="19.6" font-weight="normal" fill="#262626" font-family='"Liberation Sans", "Noto Sans CJK SC", sans-serif' stroke="#262626" stroke-width="0.4">%</text>
<text transform="translate(746.29,454.40) scale(0.87,1)" text-anchor="end" font-size="19.6" font-weight="normal" fill="#262626" font-family='"Liberation Sans", "Noto Sans CJK SC", sans-serif'>100</text>
<text transform="translate(76.50,480.70) scale(1.06,1)" text-anchor="middle" font-size="18.5" font-weight="500" fill="#141414" font-family='"Liberation Sans", "Noto Sans CJK SC", sans-serif' stroke="#141414" stroke-width="0.35">插混 汇总</text>
<text transform="translate(322.19,480.10) scale(0.58,1)" text-anchor="end" font-size="18.9" font-weight="bold" fill="#141414" font-family='"Liberation Sans", "Noto Sans CJK SC", sans-serif' stroke="#141414" stroke-width="0.4">%</text>
<text transform="translate(312.24,480.10) scale(1.06,1)" text-anchor="end" font-size="18.9" font-weight="bold" fill="#141414" font-family='"Liberation Sans", "Noto Sans CJK SC", sans-serif'>0</text>
<text transform="translate(382.19,480.10) scale(0.58,1)" text-anchor="end" font-size="18.9" font-weight="bold" fill="#141414" font-family='"Liberation Sans", "Noto Sans CJK SC", sans-serif' stroke="#141414" stroke-width="0.4">%</text>
<text transform="translate(372.24,480.10) scale(1.06,1)" text-anchor="end" font-size="18.9" font-weight="bold" fill="#141414" font-family='"Liberation Sans", "Noto Sans CJK SC", sans-serif'>0</text>
<text transform="translate(650.49,480.10) scale(0.58,1)" text-anchor="end" font-size="18.9" font-weight="bold" fill="#141414" font-family='"Liberation Sans", "Noto Sans CJK SC", sans-serif' stroke="#141414" stroke-width="0.4">%</text>
<text transform="translate(640.54,480.10) scale(1.06,1)" text-anchor="end" font-size="18.9" font-weight="bold" fill="#141414" font-family='"Liberation Sans", "Noto Sans CJK SC", sans-serif'>0</text>
<text transform="translate(704.19,480.10) scale(0.58,1)" text-anchor="end" font-size="18.9" font-weight="bold" fill="#141414" font-family='"Liberation Sans", "Noto Sans CJK SC", sans-serif' stroke="#141414" stroke-width="0.4">%</text>
<text transform="translate(694.24,480.10) scale(1.06,1)" text-anchor="end" font-size="18.9" font-weight="bold" fill="#141414" font-family='"Liberation Sans", "Noto Sans CJK SC", sans-serif'>0</text>
<text transform="translate(756.99,480.10) scale(0.58,1)" text-anchor="end" font-size="18.9" font-weight="bold" fill="#141414" font-family='"Liberation Sans", "Noto Sans CJK SC", sans-serif' stroke="#141414" stroke-width="0.4">%</text>
<text transform="translate(747.04,480.10) scale(1.06,1)" text-anchor="end" font-size="18.9" font-weight="bold" fill="#141414" font-family='"Liberation Sans", "Noto Sans CJK SC", sans-serif'>0</text>
<text transform="translate(76.50,505.60) scale(1.06,1)" text-anchor="middle" font-size="18.5" font-weight="500" fill="#141414" font-family='"Liberation Sans", "Noto Sans CJK SC", sans-serif' stroke="#141414" stroke-width="0.35">专用车 汇总</text>
<text transform="translate(201.69,505.00) scale(0.58,1)" text-anchor="end" font-size="18.9" font-weight="bold" fill="#141414" font-family='"Liberation Sans", "Noto Sans CJK SC", sans-serif' stroke="#141414" stroke-width="0.4">%</text>
<text transform="translate(191.47,505.00) scale(1.06,1)" text-anchor="end" font-size="18.9" font-weight="bold" fill="#141414" font-family='"Liberation Sans", "Noto Sans CJK SC", sans-serif'>11</text>
<text transform="translate(262.19,505.00) scale(0.58,1)" text-anchor="end" font-size="18.9" font-weight="bold" fill="#141414" font-family='"Liberation Sans", "Noto Sans CJK SC", sans-serif' stroke="#141414" stroke-width="0.4">%</text>
<text transform="translate(252.14,505.00) scale(1.06,1)" text-anchor="end" font-size="18.9" font-weight="bold" fill="#141414" font-family='"Liberation Sans", "Noto Sans CJK SC", sans-serif'>23</text>
<text transform="translate(322.19,505.00) scale(0.58,1)" text-anchor="end" font-size="18.9" font-weight="bold" fill="#141414" font-family='"Liberation Sans", "Noto Sans CJK SC", sans-serif' stroke="#141414" stroke-width="0.4">%</text>
<text transform="translate(311.97,505.00) scale(1.06,1)" text-anchor="end" font-size="18.9" font-weight="bold" fill="#141414" font-family='"Liberation Sans", "Noto Sans CJK SC", sans-serif'>11</text>
<text transform="translate(382.19,505.00) scale(0.58,1)" text-anchor="end" font-size="18.9" font-weight="bold" fill="#141414" font-family='"Liberation Sans", "Noto Sans CJK SC", sans-serif' stroke="#141414" stroke-width="0.4">%</text>
<text transform="translate(371.51,505.00) scale(1.06,1)" text-anchor="end" font-size="18.9" font-weight="bold" fill="#141414" font-family='"Liberation Sans", "Noto Sans CJK SC", sans-serif'>4</text>
<text transform="translate(435.89,505.00) scale(0.58,1)" text-anchor="end" font-size="18.9" font-weight="bold" fill="#141414" font-family='"Liberation Sans", "Noto Sans CJK SC", sans-serif' stroke="#141414" stroke-width="0.4">%</text>
<text transform="translate(425.84,505.00) scale(1.06,1)" text-anchor="end" font-size="18.9" font-weight="bold" fill="#141414" font-family='"Liberation Sans", "Noto Sans CJK SC", sans-serif'>13</text>
<text transform="translate(489.39,505.00) scale(0.58,1)" text-anchor="end" font-size="18.9" font-weight="bold" fill="#141414" font-family='"Liberation Sans", "Noto Sans CJK SC", sans-serif' stroke="#141414" stroke-width="0.4">%</text>
<text transform="translate(478.71,505.00) scale(1.06,1)" text-anchor="end" font-size="18.9" font-weight="bold" fill="#141414" font-family='"Liberation Sans", "Noto Sans CJK SC", sans-serif'>4</text>
<text transform="translate(543.19,505.00) scale(0.58,1)" text-anchor="end" font-size="18.9" font-weight="bold" fill="#141414" font-family='"Liberation Sans", "Noto Sans CJK SC", sans-serif' stroke="#141414" stroke-width="0.4">%</text>
<text transform="translate(532.97,505.00) scale(1.06,1)" text-anchor="end" font-size="18.9" font-weight="bold" fill="#141414" font-family='"Liberation Sans", "Noto Sans CJK SC", sans-serif'>5</text>
<text transform="translate(596.89,505.00) scale(0.58,1)" text-anchor="end" font-size="18.9" font-weight="bold" fill="#141414" font-family='"Liberation Sans", "Noto Sans CJK SC", sans-serif' stroke="#141414" stroke-width="0.4">%</text>
<text transform="translate(586.86,505.00) scale(1.06,1)" text-anchor="end" font-size="18.9" font-weight="bold" fill="#141414" font-family='"Liberation Sans", "Noto Sans CJK SC", sans-serif'>9</text>
<text transform="translate(650.49,505.00) scale(0.58,1)" text-anchor="end" font-size="18.9" font-weight="bold" fill="#141414" font-family='"Liberation Sans", "Noto Sans CJK SC", sans-serif' stroke="#141414" stroke-width="0.4">%</text>
<text transform="translate(640.27,505.00) scale(1.06,1)" text-anchor="end" font-size="18.9" font-weight="bold" fill="#141414" font-family='"Liberation Sans", "Noto Sans CJK SC", sans-serif'>15</text>
<text transform="translate(704.19,505.00) scale(0.58,1)" text-anchor="end" font-size="18.9" font-weight="bold" fill="#141414" font-family='"Liberation Sans", "Noto Sans CJK SC", sans-serif' stroke="#141414" stroke-width="0.4">%</text>
<text transform="translate(693.51,505.00) scale(1.06,1)" text-anchor="end" font-size="18.9" font-weight="bold" fill="#141414" font-family='"Liberation Sans", "Noto Sans CJK SC", sans-serif'>4</text>
<text transform="translate(756.99,505.00) scale(0.58,1)" text-anchor="end" font-size="18.9" font-weight="bold" fill="#141414" font-family='"Liberation Sans", "Noto Sans CJK SC", sans-serif' stroke="#141414" stroke-width="0.4">%</text>
<text transform="translate(747.02,505.00) scale(1.06,1)" text-anchor="end" font-size="18.9" font-weight="bold" fill="#141414" font-family='"Liberation Sans", "Noto Sans CJK SC", sans-serif'>2</text>
<text transform="translate(33.20,140.40) scale(1.03,1)" text-anchor="middle" font-size="18.5" font-weight="500" fill="#141414" font-family='"Liberation Sans", "Noto Sans CJK SC", sans-serif' letter-spacing="1.2" stroke="#141414" stroke-width="0.35">纯电</text>
<text transform="translate(33.50,164.80) scale(1.03,1)" text-anchor="middle" font-size="18.5" font-weight="500" fill="#141414" font-family='"Liberation Sans", "Noto Sans CJK SC", sans-serif' stroke="#141414" stroke-width="0.35">动</text>
<text transform="translate(33.20,354.65) scale(1.03,1)" text-anchor="middle" font-size="18.5" font-weight="500" fill="#141414" font-family='"Liberation Sans", "Noto Sans CJK SC", sans-serif' letter-spacing="1.2" stroke="#141414" stroke-width="0.35">纯电</text>
<text transform="translate(33.50,379.05) scale(1.03,1)" text-anchor="middle" font-size="18.5" font-weight="500" fill="#141414" font-family='"Liberation Sans", "Noto Sans CJK SC", sans-serif' stroke="#141414" stroke-width="0.35">动</text>
<text transform="translate(33.50,254.30) scale(1.06,1)" text-anchor="middle" font-size="18.5" font-weight="500" fill="#141414" font-family='"Liberation Sans", "Noto Sans CJK SC", sans-serif' stroke="#141414" stroke-width="0.35">插混</text>
<text transform="translate(33.50,455.60) scale(1.06,1)" text-anchor="middle" font-size="18.5" font-weight="500" fill="#141414" font-family='"Liberation Sans", "Noto Sans CJK SC", sans-serif' stroke="#141414" stroke-width="0.35">插混</text>
</svg>
</body></html>
